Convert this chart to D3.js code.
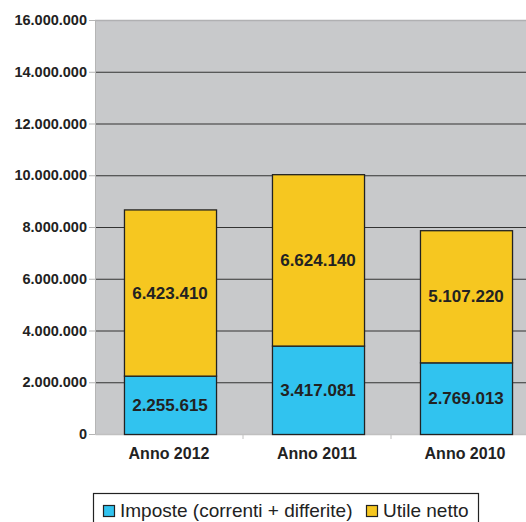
<!DOCTYPE html>
<html>
<head>
<meta charset="utf-8">
<script src="https://cdn.jsdelivr.net/npm/d3@7"></script>
<style>
  body { margin: 0; background: #fff; }
  svg { display: block; font-family: "Liberation Sans", Arial, sans-serif; }
</style>
</head>
<body>
<svg id="chart" width="526" height="522"></svg>
<script>
const categories = ["Anno 2012", "Anno 2011", "Anno 2010"];
const imposte = [2255615, 3417081, 2769013];
const utile = [6423410, 6624140, 5107220];
const seriesNames = ["Imposte (correnti + differite)", "Utile netto"];
const yTicks = [0, 2000000, 4000000, 6000000, 8000000, 10000000, 12000000, 14000000, 16000000];
const colors = ["#31c3ef", "#f6c720"];

const fmt = v => d3.format(",")(v).replace(/,/g, ".");

const svg = d3.select("#chart");
const plotL = 95, plotR = 539, plotT = 20, plotB = 434;

const x = d3.scaleBand().domain(categories).range([plotL, plotR])
  .paddingInner(0.378).paddingOuter(0.189);
const y = d3.scaleLinear().domain([0, 16000000]).range([plotB, plotT]);

// plot background
svg.append("rect")
  .attr("x", plotL).attr("y", plotT)
  .attr("width", plotR - plotL).attr("height", plotB - plotT)
  .attr("fill", "#c8c9cb");

// gridlines
svg.append("g").selectAll("line")
  .data(yTicks.filter(d => d > 0 && d < 16000000))
  .join("line")
  .attr("x1", plotL).attr("x2", plotR)
  .attr("y1", d => y(d) + 0.5).attr("y2", d => y(d) + 0.5)
  .attr("stroke", "#333").attr("stroke-width", 1.2);

svg.append("line")
  .attr("x1", plotL).attr("x2", plotR)
  .attr("y1", plotT + 0.5).attr("y2", plotT + 0.5)
  .attr("stroke", "#b0b0b2").attr("stroke-width", 1.5);

// y axis
const yAxis = svg.append("g")
  .attr("transform", `translate(${plotL},0)`)
  .call(d3.axisLeft(y).tickValues(yTicks).tickFormat(fmt).tickSize(6).tickPadding(2));
yAxis.select(".domain").attr("stroke", "#b5b5b5");
yAxis.selectAll(".tick line").attr("stroke", "#b5b5b5");
yAxis.selectAll("text")
  .attr("fill", "#222").attr("font-size", "14.5px").attr("font-weight", "bold")
  .attr("font-family", "Liberation Sans, Arial, sans-serif");

// x axis
const xAxis = svg.append("g")
  .attr("transform", `translate(0,${plotB})`)
  .call(d3.axisBottom(x).tickSize(0).tickPadding(14));
xAxis.select(".domain").attr("stroke", "#c0c0c0").attr("stroke-width", 1.5);
xAxis.selectAll("text")
  .attr("fill", "#222").attr("font-size", "16px").attr("font-weight", "bold")
  .attr("font-family", "Liberation Sans, Arial, sans-serif");
// category separators
svg.append("g").selectAll("line")
  .data(categories.slice(1))
  .join("line")
  .attr("x1", d => x(d) - x.step() * x.paddingInner() / 2)
  .attr("x2", d => x(d) - x.step() * x.paddingInner() / 2)
  .attr("y1", plotB).attr("y2", plotB + 5)
  .attr("stroke", "#c0c0c0");

// stacked bars
const rows = categories.map((c, i) => ({ cat: c, imposte: imposte[i], utile: utile[i] }));
const stack = d3.stack().keys(["imposte", "utile"])(rows);

const layers = svg.append("g").selectAll("g")
  .data(stack)
  .join("g")
  .attr("fill", (d, i) => colors[i]);

layers.selectAll("rect")
  .data(d => d)
  .join("rect")
  .attr("x", d => x(d.data.cat) + 1.5)
  .attr("y", d => y(d[1]) + 0.5)
  .attr("width", x.bandwidth())
  .attr("height", d => y(d[0]) - y(d[1]))
  .attr("stroke", "#222").attr("stroke-width", 1.3);

layers.selectAll("text")
  .data(d => d)
  .join("text")
  .attr("x", d => x(d.data.cat) + x.bandwidth() / 2 + 1)
  .attr("y", d => (y(d[0]) + y(d[1])) / 2 + 6)
  .attr("text-anchor", "middle")
  .attr("fill", "#222")
  .attr("font-size", "17px").attr("font-weight", "bold")
  .text(d => fmt(d[1] - d[0]));

// legend
const legend = svg.append("g");
legend.append("rect")
  .attr("x", 93.5).attr("y", 493.5)
  .attr("width", 385).attr("height", 40)
  .attr("fill", "#fff").attr("stroke", "#222").attr("stroke-width", 1.2);

const legendX = [103, 366];
seriesNames.forEach((name, i) => {
  legend.append("rect")
    .attr("x", legendX[i] + 0.5).attr("y", 505.5)
    .attr("width", 11).attr("height", 11)
    .attr("fill", colors[i]).attr("stroke", "#222").attr("stroke-width", 1.2);
  legend.append("text")
    .attr("x", legendX[i] + 17).attr("y", 517)
    .attr("fill", "#222").attr("font-size", "19px")
    .text(name);
});
</script>
</body>
</html>
